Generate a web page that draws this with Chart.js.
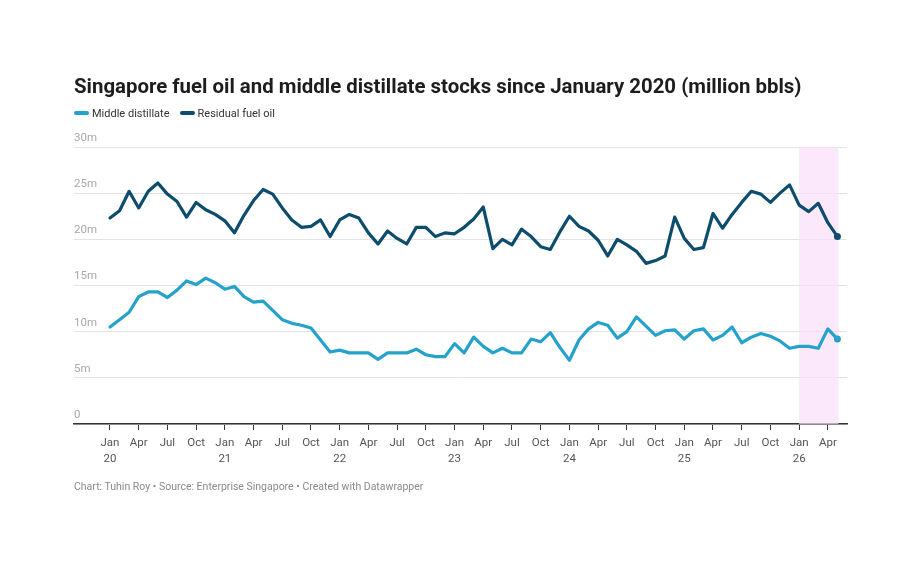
<!DOCTYPE html>
<html>
<head>
<meta charset="utf-8">
<script src="https://cdn.jsdelivr.net/npm/chart.js@4.4.1/dist/chart.umd.min.js"></script>
<style>
  html, body { margin: 0; padding: 0; background: #fff; }
  body { width: 920px; height: 566px; position: relative; overflow: hidden; font-family: Roboto, "Noto Sans", sans-serif; }
  #title { position: absolute; left: 74px; top: 74px; font-size: 20.4px; line-height: 24px; font-weight: 700; color: #1d1d1d; white-space: nowrap; }
  #legend { position: absolute; left: 74px; top: 106px; font-size: 11px; line-height: 16px; color: #333; white-space: nowrap; }
  #legend span.item { display: inline-block; margin-right: 10px; }
  #legend i { display: inline-block; width: 15px; height: 4px; border-radius: 2px; vertical-align: middle; margin-right: 3px; position: relative; top: -1px; }
  #footer { position: absolute; left: 74px; top: 479px; font-size: 10.5px; line-height: 16px; color: #8a8a8a; white-space: nowrap; }
  #wrap { position: absolute; left: 0; top: 0; width: 920px; height: 566px; }
</style>
</head>
<body>
<div id="wrap"><canvas id="stocksChart"></canvas></div>
<div id="title">Singapore fuel oil and middle distillate stocks since January 2020 (million bbls)</div>
<div id="legend"></div>
<div id="footer">Chart: Tuhin Roy • Source: Enterprise Singapore • Created with Datawrapper</div>
<script>
(function () {
  // monthly, Jan 2020 .. May 2026
  var months = [
    "2020-01","2020-02","2020-03","2020-04","2020-05","2020-06","2020-07","2020-08","2020-09","2020-10","2020-11","2020-12",
    "2021-01","2021-02","2021-03","2021-04","2021-05","2021-06","2021-07","2021-08","2021-09","2021-10","2021-11","2021-12",
    "2022-01","2022-02","2022-03","2022-04","2022-05","2022-06","2022-07","2022-08","2022-09","2022-10","2022-11","2022-12",
    "2023-01","2023-02","2023-03","2023-04","2023-05","2023-06","2023-07","2023-08","2023-09","2023-10","2023-11","2023-12",
    "2024-01","2024-02","2024-03","2024-04","2024-05","2024-06","2024-07","2024-08","2024-09","2024-10","2024-11","2024-12",
    "2025-01","2025-02","2025-03","2025-04","2025-05","2025-06","2025-07","2025-08","2025-09","2025-10","2025-11","2025-12",
    "2026-01","2026-02","2026-03","2026-04","2026-05"
  ];

  var middleDistillate = [
    10.5, 11.3, 12.1, 13.8, 14.3, 14.3, 13.7, 14.5, 15.5, 15.1, 15.8, 15.3,
    14.6, 14.9, 13.8, 13.2, 13.3, 12.3, 11.3, 10.9, 10.7, 10.4, 9.1, 7.8,
    8.0, 7.7, 7.7, 7.7, 7.0, 7.7, 7.7, 7.7, 8.1, 7.5, 7.3, 7.3,
    8.7, 7.7, 9.4, 8.4, 7.7, 8.2, 7.7, 7.7, 9.2, 8.9, 9.9, 8.3,
    6.9, 9.1, 10.3, 11.0, 10.7, 9.3, 10.0, 11.6, 10.6, 9.6, 10.1, 10.2,
    9.2, 10.1, 10.3, 9.1, 9.6, 10.5, 8.8, 9.4, 9.8, 9.5, 9.0, 8.2,
    8.4, 8.4, 8.2, 10.3, 9.2
  ];

  var residualFuelOil = [
    22.3, 23.1, 25.2, 23.4, 25.2, 26.1, 24.9, 24.1, 22.4, 24.0, 23.2, 22.7,
    22.0, 20.7, 22.6, 24.2, 25.4, 24.9, 23.4, 22.1, 21.3, 21.4, 22.1, 20.3,
    22.1, 22.7, 22.3, 20.7, 19.5, 20.9, 20.1, 19.5, 21.3, 21.3, 20.3, 20.7,
    20.6, 21.3, 22.2, 23.5, 19.0, 20.0, 19.4, 21.1, 20.3, 19.2, 18.9, 20.8,
    22.5, 21.4, 20.9, 19.9, 18.2, 20.0, 19.4, 18.7, 17.4, 17.7, 18.2, 22.4,
    20.1, 18.9, 19.1, 22.8, 21.2, 22.7, 24.0, 25.2, 24.9, 24.0, 25.0, 25.9,
    23.7, 23.0, 23.9, 21.8, 20.3
  ];

  // one tick every three months
  var tickLabels = [
    ["Jan", "20"], "Apr", "Jul", "Oct",
    ["Jan", "21"], "Apr", "Jul", "Oct",
    ["Jan", "22"], "Apr", "Jul", "Oct",
    ["Jan", "23"], "Apr", "Jul", "Oct",
    ["Jan", "24"], "Apr", "Jul", "Oct",
    ["Jan", "25"], "Apr", "Jul", "Oct",
    ["Jan", "26"], "Apr"
  ];

  var yTicks = [0, 5, 10, 15, 20, 25, 30];
  var highlightFrom = "2026-01";
  var highlightTo = "2026-05";

  var LIGHT = "#25a2cc";
  var DARK = "#0c4c6c";

  var legend = document.getElementById("legend");
  [["Middle distillate", LIGHT], ["Residual fuel oil", DARK]].forEach(function (it) {
    var s = document.createElement("span");
    s.className = "item";
    s.innerHTML = '<i style="background:' + it[1] + '"></i>' + it[0];
    legend.appendChild(s);
  });

  function points(values) {
    return values.map(function (v, i) { return { x: i, y: v }; });
  }

  function lastDot(values) {
    return values.map(function (v, i) { return i === values.length - 1 ? 3.5 : 0; });
  }

  var highlightBand = {
    id: "highlightBand",
    beforeDatasetsDraw: function (chart) {
      var x = chart.scales.x, a = chart.chartArea, ctx = chart.ctx;
      var x0 = x.getPixelForValue(months.indexOf(highlightFrom));
      var x1 = x.getPixelForValue(months.indexOf(highlightTo));
      ctx.save();
      ctx.fillStyle = "rgba(250, 222, 250, 0.7)";
      ctx.fillRect(x0, a.top, x1 - x0 + 1, a.bottom - a.top);
      ctx.restore();
    }
  };

  var font = { family: "Roboto, 'Noto Sans', sans-serif", size: 11.5, lineHeight: 1.4 };

  new Chart(document.getElementById("stocksChart"), {
    type: "line",
    data: {
      datasets: [
        {
          label: "Residual fuel oil",
          data: points(residualFuelOil),
          borderColor: DARK,
          backgroundColor: DARK,
          borderWidth: 3.2,
          pointRadius: lastDot(residualFuelOil),
          pointBorderWidth: 0,
          tension: 0,
          borderJoinStyle: "round",
          borderCapStyle: "round"
        },
        {
          label: "Middle distillate",
          data: points(middleDistillate),
          borderColor: LIGHT,
          backgroundColor: LIGHT,
          borderWidth: 3.2,
          pointRadius: lastDot(middleDistillate),
          pointBorderWidth: 0,
          tension: 0,
          borderJoinStyle: "round",
          borderCapStyle: "round"
        }
      ]
    },
    options: {
      responsive: true,
      maintainAspectRatio: false,
      animation: false,
      events: [],
      layout: { padding: { left: 74, right: 73, top: 147, bottom: 92 } },
      plugins: { legend: { display: false }, tooltip: { enabled: false } },
      scales: {
        x: {
          type: "linear",
          min: -3.76,
          max: 77.0,
          afterFit: function (s) { s.height = 50; },
          afterBuildTicks: function (s) {
            s.ticks = tickLabels.map(function (t, i) { return { value: i * 3 }; });
          },
          grid: { drawOnChartArea: false, drawTicks: true, tickLength: 6, color: "#333", lineWidth: 1 },
          border: { display: true, color: "#333", width: 1.5 },
          ticks: {
            autoSkip: false,
            maxRotation: 0,
            padding: 5,
            color: "#555",
            font: font,
            callback: function (v) { return tickLabels[Math.round(v / 3)]; }
          }
        },
        y: {
          min: 0,
          max: 30,
          afterFit: function (s) { s.width = 0; },
          afterBuildTicks: function (s) {
            s.ticks = yTicks.map(function (v) { return { value: v }; });
          },
          grid: { color: "#e3e3e3", lineWidth: 1, drawTicks: false },
          border: { display: false },
          ticks: {
            mirror: true,
            padding: 0,
            labelOffset: -9,
            color: "#a8a8a8",
            font: { family: font.family, size: 11.5 },
            callback: function (v) { return v === 0 ? "0" : v + "m"; }
          }
        }
      }
    },
    plugins: [highlightBand]
  });
})();
</script>
</body>
</html>
